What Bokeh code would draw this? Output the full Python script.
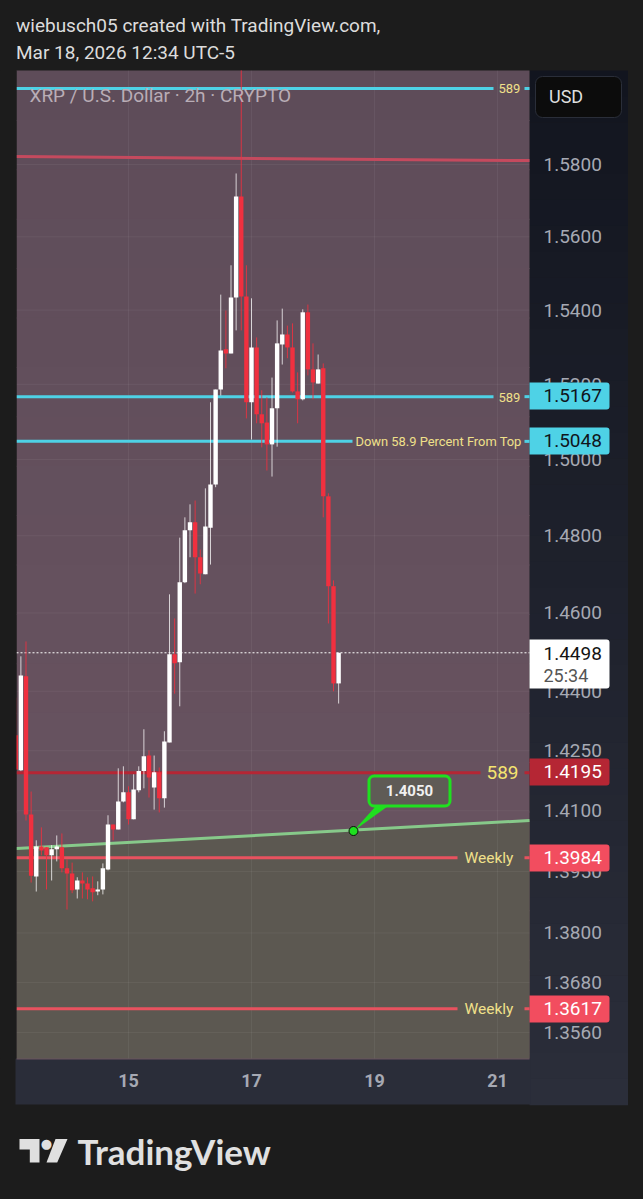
from bokeh.plotting import figure
from bokeh.models import Range1d, FixedTicker, PrintfTickFormatter, Label, BoxAnnotation, PolyAnnotation, ColumnDataSource
from bokeh.embed import file_html
from bokeh.resources import INLINE

# ---------- data ----------
first_bar_day = 13.1667          # first visible 2h bar (day of March)
bars_per_day = 12
opens = [1.4289,1.4201,1.4438,1.4091,1.3938,1.4012,1.4010,1.3990,1.4005,1.4010,1.3958,1.3945,1.3906,1.3928,1.3921,1.3909,
         1.3901,1.3906,1.3955,1.4066,1.4054,1.4123,1.4146,1.4079,1.4151,1.4199,1.4238,1.4158,1.4196,1.4131,1.4271,1.4494,
         1.4474,1.4679,1.4814,1.4835,1.4744,1.4700,1.4821,1.4934,1.5186,1.5294,1.5283,1.5434,1.5711,1.5437,1.5152,1.5299,
         1.5120,1.5098,1.5040,1.5136,1.5307,1.5334,1.5299,1.5181,1.5160,1.5394,1.5240,1.5202,1.5243,1.4903,1.4669,1.4420]
highs = [1.4384,1.4489,1.4527,1.4148,1.4027,1.4059,1.4010,1.4015,1.4039,1.4044,1.3980,1.3972,1.3936,1.3948,1.3936,1.3938,
         1.3926,1.3970,1.4089,1.4066,1.4206,1.4211,1.4161,1.4191,1.4211,1.4304,1.4251,1.4238,1.4208,1.4299,1.4648,1.4586,
         1.4795,1.4848,1.4882,1.4892,1.4764,1.4924,1.5152,1.5186,1.5442,1.5399,1.5522,1.5775,1.6064,1.5522,1.5432,1.5326,
         1.5184,1.5165,1.5218,1.5372,1.5404,1.5358,1.5364,1.5232,1.5402,1.5415,1.5310,1.5280,1.5256,1.4911,1.4684,1.4498]
lows = [1.4203,1.4199,1.4076,1.3923,1.3901,1.3990,1.3906,1.3928,1.3975,1.3948,1.3857,1.3897,1.3884,1.3884,1.3882,1.3877,
        1.3892,1.3894,1.3953,1.4027,1.4054,1.4121,1.4066,1.4079,1.4146,1.4156,1.4133,1.4103,1.4096,1.4108,1.4271,1.4394,
        1.4362,1.4677,1.4744,1.4650,1.4674,1.4700,1.4725,1.4927,1.5170,1.5243,1.5283,1.5345,1.5345,1.5109,1.5053,1.5096,
        1.5032,1.4971,1.4955,1.5034,1.5253,1.5270,1.5178,1.5096,1.5157,1.5224,1.5160,1.5202,1.4848,1.4573,1.4400,1.4369]
closes = [1.4203,1.4440,1.4091,1.3940,1.4012,1.4002,1.3990,1.4005,1.4012,1.3958,1.3945,1.3904,1.3928,1.3921,1.3906,1.3899,
          1.3906,1.3958,1.4066,1.4054,1.4123,1.4146,1.4079,1.4153,1.4199,1.4236,1.4183,1.4196,1.4131,1.4273,1.4494,1.4471,
          1.4679,1.4814,1.4835,1.4744,1.4702,1.4824,1.4934,1.5186,1.5291,1.5283,1.5434,1.5711,1.5437,1.5152,1.5299,1.5120,
          1.5096,1.5040,1.5136,1.5310,1.5334,1.5299,1.5181,1.5160,1.5394,1.5240,1.5205,1.5240,1.4903,1.4669,1.4420,1.4498]

price_ticks = [1.58,1.56,1.54,1.52,1.50,1.48,1.46,1.44,1.425,1.41,1.395,1.38,1.368,1.356]
day_ticks = [15,17,19,21]
last_price = 1.4498
countdown = "25:34"
cyan_top, cyan_mid, cyan_low = 1.6013, 1.5167, 1.5048
dark_red_level = 1.4195
weekly_levels = [1.3984, 1.3617]
top_trend = [1.5822, 1.5811]
green_trend = [1.4007, 1.4076]
callout_price = 1.4050
title_lines = ["wiebusch05 created with TradingView.com,", "Mar 18, 2026 12:34 UTC-5"]
watermark = "XRP / U.S. Dollar \u00b7 2h \u00b7 CRYPTO"

# ---------- layout ----------
FONT = "Roboto"
W_PAGE, H_PAGE = 635, 1190
L, R, T, B = 16, 529, 70, 1058     # chart pane, in page pixels
X0, X1 = 13.1789, 21.5203          # chart pane extents in days
Y0, Y1 = 1.34983, 1.60637          # chart pane extents in price
PANEL_BOTTOM = 1.3389              # bottom edge of the axis strip in price
day = lambda px: 15 + (px - 128) / 61.5
sx = lambda px: px
sy = lambda py: H_PAGE - py

p = figure(width=W_PAGE, height=H_PAGE, output_backend="svg", toolbar_location=None,
           y_axis_type="log", y_axis_location="right",
           x_range=Range1d(day(0), day(W_PAGE)), y_range=Range1d(1.3188, 1.6263),
           min_border=0, background_fill_color="#1c1c1c", border_fill_color="#1c1c1c", outline_line_color=None)

# axes, kept inside the one frame
p.yaxis.ticker = FixedTicker(ticks=price_ticks)
p.yaxis.formatter = PrintfTickFormatter(format="%.4f")
p.yaxis.fixed_location = X1
p.xaxis.ticker = FixedTicker(ticks=day_ticks)
p.xaxis.fixed_location = Y0
for ax in (p.xaxis, p.yaxis):
    ax.axis_line_color = None
    ax.major_tick_line_color = None
    ax.minor_tick_line_color = None
    ax.major_label_text_font = FONT
p.yaxis.major_label_text_font_size = "19px"
p.yaxis.major_label_text_color = "#a6a9b3"
p.yaxis.major_label_standoff = 8
p.xaxis.major_label_text_font_size = "18px"
p.xaxis.major_label_text_font_style = "bold"
p.xaxis.major_label_text_color = "#a6a9b3"
p.xaxis.major_label_standoff = 10
p.grid.visible = False

def blend(a, b, t):
    return "#%02x%02x%02x" % tuple(round(a[i] + (b[i]-a[i])*t) for i in range(3))

# gradient strip right of the pane, strip below it
n = 40
for i in range(n):
    p.quad(left=X1, right=day(627.5),
           top=Y1 * (PANEL_BOTTOM / Y1) ** (i / n), bottom=Y1 * (PANEL_BOTTOM / Y1) ** ((i + 1.02) / n),
           fill_color=blend((0x12, 0x15, 0x1f), (0x2b, 0x2e, 0x3a), (i + .5) / n), line_color=None, level="underlay")
p.quad(left=day(15), right=X1 + 0.02, top=Y0, bottom=PANEL_BOTTOM, fill_color="#2a2d39", line_color=None, level="underlay")

# pane background, lower fill under the trend line, grid
m = 20
for i in range(m):
    p.quad(left=X0, right=X1, top=Y1 * (Y0 / Y1) ** (i / m), bottom=Y1 * (Y0 / Y1) ** ((i + 1.02) / m),
           fill_color=blend((0x5e, 0x4c, 0x59), (0x68, 0x53, 0x60), min(1, (i + .5) / (m * .8))),
           line_color=None, level="underlay")
p.patch([X0, X1, X1, X0], [green_trend[0], green_trend[1], Y0, Y0], color="#5c5851", line_color=None, level="underlay")
p.segment([X0]*len(price_ticks), price_ticks, [X1]*len(price_ticks), price_ticks,
          line_color="#ffffff", line_alpha=0.055, line_width=1, level="underlay")
p.segment(day_ticks, [Y0]*len(day_ticks), day_ticks, [Y1]*len(day_ticks),
          line_color="#ffffff", line_alpha=0.055, line_width=1, level="underlay")

def text(s, px, py, size, color, align="left", style="normal", font=FONT, alpha=1.0):
    p.add_layout(Label(x=sx(px), y=sy(py), x_units="screen", y_units="screen", text=s, text_font=font,
                       text_font_size=f"{size}px", text_color=color, text_align=align, text_baseline="middle",
                       text_font_style=style, text_alpha=alpha))

# header and watermark
text(title_lines[0], 15.5, 25, 19, "#dcdcdc")
text(title_lines[1], 15.5, 52, 19, "#dcdcdc")

# horizontal levels with gaps for labels
def level(price, segs, color, w=3, alpha=1.0):
    for a, b in segs:
        p.line([day(a), day(b)], [price, price], line_color=color, line_width=w, line_alpha=alpha)

CY = "#4ed2e6"
level(cyan_top, [(L, 493), (524, R)], CY)
text(watermark, 29, 95, 19, "#b9adb6")
level(cyan_mid, [(L, 493), (524, R)], CY)
level(cyan_low, [(L, 352), (524, R)], CY)
level(dark_red_level, [(L, 480), (524, R)], "#b52634")
for wl in weekly_levels:
    level(wl, [(L, 457), (524, R)], "#e8525f")
p.line([X0, X1], top_trend, line_color="#c44a5e", line_width=3)
p.line([X0, X1], green_trend, line_color="#87c98a", line_width=3)
p.line([X0, X1], [last_price, last_price], line_color="#ffffff", line_width=1, line_dash=[2, 2])

# candles
xs = [first_bar_day + i/bars_per_day for i in range(len(opens))]
WH, RD = "#ffffff", "#f0303f"
cols = [WH if c >= o else RD for o, c in zip(opens, closes)]
src = ColumnDataSource(dict(x=xs, o=opens, h=highs, l=lows, c=closes, col=cols,
                            wa=[0.75 if c >= o else 0.85 for o, c in zip(opens, closes)],
                            top=[max(a, b) for a, b in zip(opens, closes)],
                            bot=[min(a, b) for a, b in zip(opens, closes)]))
p.segment("x", "h", "x", "l", source=src, line_color="col", line_width=1, line_alpha="wa")
p.vbar("x", width=4.4/61.5, top="top", bottom="bot", source=src, fill_color="col", line_color=None)

# strip covering the bar cut off by the pane's left edge
p.add_layout(BoxAnnotation(left=0, right=sx(L), top=sy(T), bottom=sy(B),
                           left_units="screen", right_units="screen", top_units="screen", bottom_units="screen",
                           fill_color="#1c1c1c", fill_alpha=1, line_color=None))

# callout for the trend line
cx = day(353)
p.patch([cx, day(375), day(387)], [callout_price, 1.4111, 1.4111], fill_color="#1fe01f", line_color=None)
p.add_layout(BoxAnnotation(left=sx(368.5), right=sx(449.5), top=sy(775.5), bottom=sy(805.5),
                           left_units="screen", right_units="screen", top_units="screen", bottom_units="screen",
                           fill_color="#5f5b56", fill_alpha=1, line_color="#1fe01f", line_width=3, line_alpha=1,
                           border_radius=5))
p.scatter([cx], [callout_price], size=9, fill_color="#1fe01f", line_color="#0b0b0b", line_width=1)
text("1.4050", 409, 789.5, 15, "#f0f0f0", align="center", style="bold")

# inline level labels
Y_C = "#f0e08a"
text("589", 498, 88, 13, Y_C)
text("589", 498, 396.5, 13, Y_C)
text("Down 58.9 Percent From Top", 355, 441, 12.9, Y_C)
text("589", 486, 771.5, 19, "#f5e470")
text("Weekly", 464, 857, 15.5, Y_C)
text("Weekly", 464, 1008, 15.5, Y_C)

# price tags
def tag(top, bottom, fill, label, color, right=609):
    p.add_layout(BoxAnnotation(left=sx(529), right=sx(right), top=sy(top), bottom=sy(bottom),
                               left_units="screen", right_units="screen", top_units="screen", bottom_units="screen",
                               fill_color=fill, fill_alpha=1, line_color=None,
                               border_radius=dict(top_left=0, top_right=3, bottom_right=3, bottom_left=0)))
    if label:
        text(label, 543, (top+bottom)/2 - 1, 19, color)

tag(382, 409, CY, "%.4f" % cyan_mid, "#10151c")
tag(427, 454, CY, "%.4f" % cyan_low, "#10151c")
tag(758, 785, "#b52634", "%.4f" % dark_red_level, "#ffffff")
tag(844, 871, "#f24d5f", "%.4f" % weekly_levels[0], "#ffffff")
tag(995, 1022, "#f24d5f", "%.4f" % weekly_levels[1], "#ffffff")
tag(639, 688, "#ffffff", "", "#000000")
text("%.4f" % last_price, 543, 652.5, 19, "#141414")
text(countdown, 543, 675, 18, "#555555")

# currency button
p.add_layout(BoxAnnotation(left=sx(535), right=sx(621), top=sy(76), bottom=sy(117),
                           left_units="screen", right_units="screen", top_units="screen", bottom_units="screen",
                           fill_color="#0c0c0c", fill_alpha=1, line_color="#2a2e39", line_width=1, line_alpha=1,
                           border_radius=7))
text("USD", 548.5, 96, 18, "#dedede")

# TradingView mark
def poly(pts):
    p.add_layout(PolyAnnotation(xs=[sx(a) for a, b in pts], ys=[sy(b) for a, b in pts],
                                xs_units="screen", ys_units="screen",
                                fill_color="#e0e0e0", fill_alpha=1, line_color=None))
poly([(19, 1138.5), (39, 1138.5), (39, 1162), (29.3, 1162), (29.3, 1149), (19, 1149)])
poly([(55, 1138.5), (67, 1138.5), (56.7, 1162), (46, 1162)])
text("\u25cf", 46, 1143, 13, "#e0e0e0", align="center", font="DejaVu Sans")
text("TradingView", 77, 1150.5, 35, "#e0e0e0", style="bold", font="Lato")

html = file_html(p, INLINE).replace("</head>", "<style>html,body{background:#1c1c1c}</style></head>")
open("out.html", "w").write(html)
